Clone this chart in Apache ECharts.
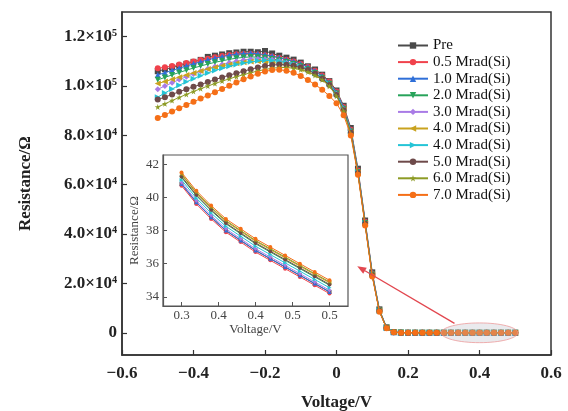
<!DOCTYPE html>
<html><head><meta charset="utf-8">
<script src="https://cdn.jsdelivr.net/npm/echarts@6/dist/echarts.min.js"></script>
<style>html,body{margin:0;padding:0;background:#fff}#c{width:568px;height:411px}</style>
</head><body><div id="c"></div>
<script>
const voltage = [-0.5,-0.48,-0.46,-0.44,-0.42,-0.4,-0.38,-0.36,-0.34,-0.32,-0.3,-0.28,-0.26,-0.24,-0.22,-0.2,-0.18,-0.16,-0.14,-0.12,-0.1,-0.08,-0.06,-0.04,-0.02,0,0.02,0.04,0.06,0.08,0.1,0.12,0.14,0.16,0.18,0.2,0.22,0.24,0.26,0.28,0.3,0.32,0.34,0.36,0.38,0.4,0.42,0.44,0.46,0.48,0.5];
const legendLabels = ['Pre','0.5 Mrad(Si)','1.0 Mrad(Si)','2.0 Mrad(Si)','3.0 Mrad(Si)','4.0 Mrad(Si)','4.0 Mrad(Si)','5.0 Mrad(Si)','6.0 Mrad(Si)','7.0 Mrad(Si)'];

const pre = [106000,106800,107500,108200,109000,109800,110600,111800,112300,112800,113300,113600,113900,113900,113700,114200,113200,112300,111500,110700,109500,108000,106700,104600,102000,98200,92000,83000,66500,45500,24500,9500,2200,300,75,58,52,48,46,43,40.8,39.7,38.8,38.0,37.4,36.8,36.3,35.8,35.3,34.8,34.3];
const mrad05 = [107200,107600,108100,108700,109300,109900,110500,111100,111700,112200,112600,112900,113000,113000,112800,112500,112000,111400,110700,109900,108900,107700,106200,104300,101800,97800,91500,82300,65800,45000,24000,9200,2100,280,72,57,51,47,45,42,40.7,39.6,38.7,37.9,37.3,36.7,36.2,35.7,35.2,34.7,34.2];
const mrad10 = [104500,105400,106300,107200,108100,109000,109800,110600,111300,111900,112500,112900,113200,113300,113100,112700,112200,111500,110700,109900,108900,107700,106100,104100,101500,97500,91300,82000,65500,44800,23800,9100,2000,270,70,56,50,47,44,42,40.8,39.7,38.8,38.0,37.4,36.8,36.3,35.8,35.3,34.8,34.3];
const mrad20 = [102500,103500,104500,105500,106400,107300,108100,108900,109600,110200,110800,111300,111600,111800,111700,111500,111000,110400,109700,108900,108000,106800,105300,103400,100900,97000,90800,81600,65200,44500,23600,9000,2000,260,68,55,50,46,44,42,41.2,40.1,39.2,38.4,37.8,37.2,36.7,36.2,35.7,35.2,34.7];
const mrad30 = [98700,100000,101300,102600,103800,104900,106000,107000,107900,108700,109400,110000,110500,110900,111000,110900,110600,110100,109400,108600,107700,106500,105000,103100,100600,96800,90600,81400,65000,44300,23500,8900,1900,250,67,55,49,46,44,42,40.9,39.8,38.9,38.1,37.5,36.9,36.4,35.9,35.4,34.9,34.4];
const mrad40a = [101000,101800,102700,103600,104500,105300,106100,106900,107600,108200,108700,109200,109600,109900,110000,109900,109600,109100,108500,107800,106900,105800,104400,102600,100200,96300,90200,81000,64700,44100,23300,8800,1900,240,66,54,49,46,43,41,41.35,40.25,39.35,38.55,37.95,37.35,36.85,36.35,35.85,35.35,34.85];
const mrad40b = [95500,97200,98800,100300,101700,103000,104200,105300,106300,107200,108000,108700,109300,109800,110200,110400,110300,110000,109400,108700,107800,106700,105200,103400,100900,96900,90700,81500,65100,44400,23500,8900,1900,250,67,55,50,46,44,42,41.05,39.95,39.05,38.25,37.65,37.05,36.55,36.05,35.55,35.05,34.55];
const mrad50 = [94500,95500,96600,97700,98700,99700,100600,101600,102600,103500,104400,105200,106000,106800,107500,108100,108500,108700,108600,108200,107500,106500,105000,103000,100400,96400,90200,81100,64800,44200,23300,8800,1900,240,66,54,49,46,43,41,41.25,40.15,39.25,38.45,37.85,37.25,36.75,36.25,35.75,35.25,34.75];
const mrad60 = [91500,92800,94100,95400,96600,97800,98900,100000,101000,102000,102900,103800,104600,105400,106100,106700,107200,107500,107500,107200,106600,105700,104300,102500,99900,95900,89800,80700,64400,43900,23100,8700,1800,230,65,54,49,45,43,41,41.4,40.3,39.4,38.6,38.0,37.4,36.9,36.4,35.9,35.4,34.9];
const mrad70 = [87000,88300,89700,91000,92300,93600,94900,96200,97500,98800,100100,101400,102700,103900,105000,105900,106500,106600,106200,105400,104100,102400,100600,98500,96000,93000,88200,80000,64000,43500,22800,8500,1800,220,64,53,48,45,43,41,41.5,40.4,39.5,38.7,38.1,37.5,37.0,36.5,36.0,35.5,35.0];
const allSeries = [pre,mrad05,mrad10,mrad20,mrad30,mrad40a,mrad40b,mrad50,mrad60,mrad70];

const xTickValues = [-0.6,-0.4,-0.2,0,0.2,0.4,0.6];
const xTickLabels = ['\u22120.6','\u22120.4','\u22120.2','0','0.2','0.4','0.6'];
const yTickValues = [0,20000,40000,60000,80000,100000,120000];
const yTickLabels = ['0','2.0\u00d710\u2074','4.0\u00d710\u2074','6.0\u00d710\u2074','8.0\u00d710\u2074','1.0\u00d710\u2075','1.2\u00d710\u2075'];
const insetXTickValues = [0.3,0.35,0.4,0.45,0.5];
const insetXTickLabels = ['0.3','0.4','0.4','0.5','0.5'];
const insetYTickValues = [34,36,38,40,42];
const insetYTickLabels = ['34','36','38','40','42'];
const insetStart = 40; // index of 0.30 V

// styles
const colors = ['#4a4a4a','#f0424c','#2f6fd8','#27a35a','#a97be6','#c9a21e','#25c4d6','#6e4a4a','#8d9b25','#f56f17'];
const symbols = ['rect','circle','triangle','path://M0,0L10,0L5,9Z','diamond','path://M9,0L9,10L0,5Z','path://M0,0L0,10L9,5Z','circle',
  'path://M5,0L6.2,3.6L10,3.6L6.9,5.9L8.1,9.5L5,7.3L1.9,9.5L3.1,5.9L0,3.6L3.8,3.6Z','circle'];
const FONT = 'Liberation Serif';

function lookup(vals, labels){
  return function(v){
    for (let i=0;i<vals.length;i++) if (Math.abs(vals[i]-v)<1e-9) return labels[i];
    return '';
  };
}

const series = [];
allSeries.forEach((arr,i)=>{
  series.push({
    name:'s'+i, type:'line', xAxisIndex:0, yAxisIndex:0,
    data: voltage.map((v,k)=>[v,arr[k]]),
    symbol: symbols[i], symbolSize: 6,
    lineStyle:{width:1, color:colors[i]},
    itemStyle:{color:colors[i]},
    animation:false, z: 2+i
  });
});
allSeries.forEach((arr,i)=>{
  series.push({
    name:'inset'+i, type:'line', xAxisIndex:1, yAxisIndex:1,
    data: voltage.slice(insetStart).map((v,k)=>[v,arr[insetStart+k]]),
    symbol: symbols[i], symbolSize: 4,
    lineStyle:{width:1, color:colors[i]},
    itemStyle:{color:colors[i]},
    animation:false, z: 30+i
  });
});

const chart = echarts.init(document.getElementById('c'), null, {renderer:'canvas'});
const option = {
  animation:false,
  backgroundColor:'#fff',
  textStyle:{fontFamily:FONT},
  legend:{
    data: allSeries.map((a,i)=>'s'+i),
    formatter: (n)=>legendLabels[+n.slice(1)],
    orient:'vertical', left:392, top:33,
    itemWidth:30, itemHeight:8, itemGap:1.6,
    textStyle:{fontFamily:FONT, fontSize:15, color:'#111', lineHeight:15}
  },
  grid:[
    {left:122, right:17, top:12, bottom:56, show:true, borderColor:'#333', borderWidth:1.5, outerBoundsMode:'none', containLabel:false},
    {left:163, right:220, top:155, bottom:105, show:true, borderColor:'#555', borderWidth:1.2, backgroundColor:'#fff', z:20, outerBoundsMode:'none', containLabel:false}
  ],
  xAxis:[
    {type:'value', gridIndex:0, min:-0.6, max:0.6,
     axisLine:{show:true, onZero:false, lineStyle:{color:'#333', width:1.5}},
     axisTick:{show:true, inside:true, length:5, customValues:xTickValues, lineStyle:{color:'#333', width:1.2}},
     axisLabel:{customValues:xTickValues, formatter:lookup(xTickValues,xTickLabels), fontFamily:FONT, fontSize:17, fontWeight:'bold', color:'#222', margin:10},
     splitLine:{show:false},
     name:'Voltage/V', nameLocation:'middle', nameGap:39,
     nameTextStyle:{fontFamily:FONT, fontSize:17, fontWeight:'bold', color:'#222'}},
    {type:'value', gridIndex:1, min:0.275, max:0.525, z:25,
     axisLine:{show:true, onZero:false, lineStyle:{color:'#555', width:1.2}},
     axisTick:{show:true, inside:true, length:4, customValues:insetXTickValues, lineStyle:{color:'#555'}},
     axisLabel:{customValues:insetXTickValues, formatter:lookup(insetXTickValues,insetXTickLabels), fontFamily:FONT, fontSize:13, color:'#444', margin:3},
     splitLine:{show:false},
     name:'Voltage/V', nameLocation:'middle', nameGap:17,
     nameTextStyle:{fontFamily:FONT, fontSize:13, color:'#444'}}
  ],
  yAxis:[
    {type:'value', gridIndex:0, min:-9000, max:130000,
     axisLine:{show:true, onZero:false, lineStyle:{color:'#333', width:1.5}},
     axisTick:{show:true, inside:true, length:5, customValues:yTickValues, lineStyle:{color:'#333', width:1.2}},
     axisLabel:{customValues:yTickValues, formatter:lookup(yTickValues,yTickLabels), fontFamily:FONT, fontSize:17, fontWeight:'bold', color:'#222', margin:5},
     splitLine:{show:false},
     name:'Resistance/\u03a9', nameLocation:'middle', nameGap:88,
     nameTextStyle:{fontFamily:FONT, fontSize:17, fontWeight:'bold', color:'#222'}},
    {type:'value', gridIndex:1, min:33.45, max:42.55, z:25,
     axisLine:{show:true, onZero:false, lineStyle:{color:'#555', width:1.2}},
     axisTick:{show:true, inside:true, length:4, customValues:insetYTickValues, lineStyle:{color:'#555'}},
     axisLabel:{customValues:insetYTickValues, formatter:lookup(insetYTickValues,insetYTickLabels), fontFamily:FONT, fontSize:13, color:'#444', margin:4},
     splitLine:{show:false},
     name:'Resistance/\u03a9', nameLocation:'middle', nameGap:22,
     nameTextStyle:{fontFamily:FONT, fontSize:13, color:'#444'}}
  ],
  series: series
};
chart.setOption(option);

// annotations (data coordinates)
const ellipseCenter = [0.4, 0], ellipseLeft = [0.293, 0], ellipseRight = [0.507, 0], ellipseTop = [0.4, 4000];
const arrowTail = [0.33, 3800], arrowHead = [0.058, 27000];
const px = (p)=>chart.convertToPixel({gridIndex:0}, p);
const ec = px(ellipseCenter), el = px(ellipseLeft), er = px(ellipseRight), et = px(ellipseTop);
const t = px(arrowTail), h = px(arrowHead);
const dx = h[0]-t[0], dy = h[1]-t[1], len = Math.hypot(dx,dy);
const ux = dx/len, uy = dy/len, nx = -uy, ny = ux;
const bx = h[0]-ux*9, by = h[1]-uy*9;
chart.setOption({graphic:[
  {type:'ellipse', z:100, shape:{cx:ec[0], cy:ec[1], rx:(er[0]-el[0])/2, ry:ec[1]-et[1]},
   style:{fill:'rgba(185,185,195,0.3)', stroke:'rgba(235,150,150,0.75)', lineWidth:1}},
  {type:'line', z:101, shape:{x1:t[0], y1:t[1], x2:bx, y2:by}, style:{stroke:'#e2474f', lineWidth:1.3}},
  {type:'polygon', z:101, shape:{points:[[h[0],h[1]],[bx+nx*3.5,by+ny*3.5],[bx-nx*3.5,by-ny*3.5]]}, style:{fill:'#e2474f'}}
]});
</script>
</body></html>
